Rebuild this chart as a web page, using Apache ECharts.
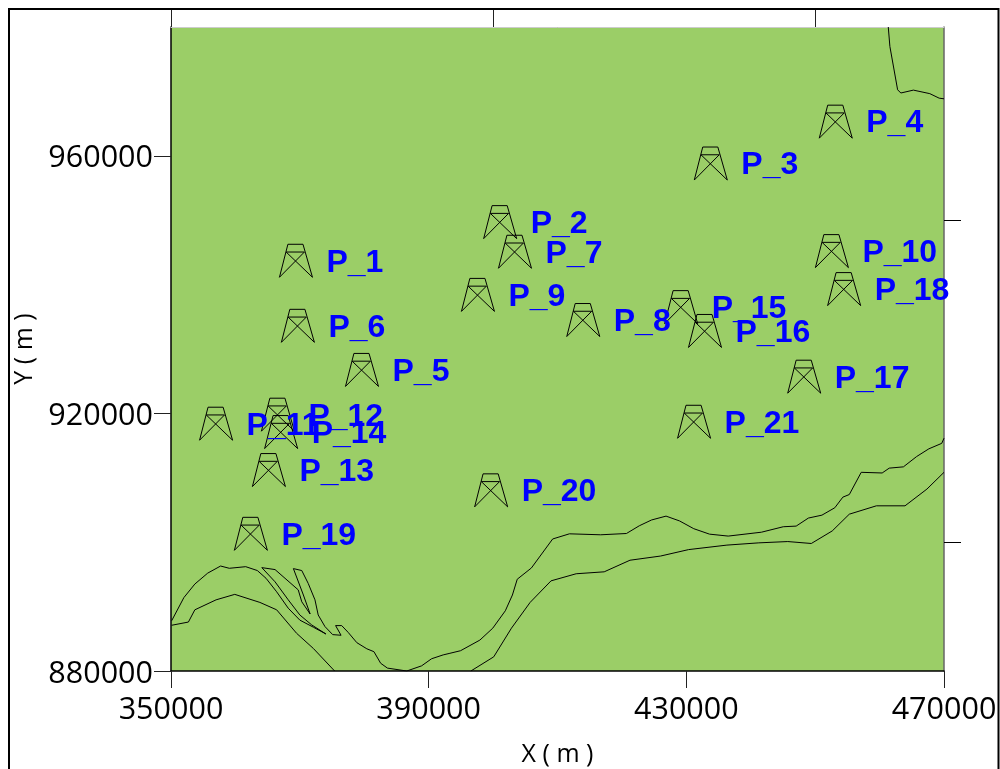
<!DOCTYPE html>
<html>
<head>
<meta charset="utf-8">
<style>html,body{margin:0;padding:0;background:#fff}#c{width:1000px;height:769px}</style>
<script src="https://cdn.jsdelivr.net/npm/echarts@6/dist/echarts.min.js"></script>
</head>
<body>
<div id="c"></div>
<script>
const siteNames = ['P_1','P_2','P_3','P_4','P_5','P_6','P_7','P_8','P_9','P_10','P_11','P_12','P_13','P_14','P_15','P_16','P_17','P_18','P_19','P_20','P_21'];
const siteX = [369400,401100,433800,453200,379650,369700,403400,414000,397650,452600,357000,366600,365200,367100,429200,432900,448300,454500,362400,399700,431200];
const siteY = [943700,949700,958800,965300,926750,933600,945100,934500,938400,945200,918400,919800,911200,917100,936500,932800,925700,939300,901300,908050,918700];
const xTickLabels = [350000,390000,430000,470000];
const yTickLabels = [880000,920000,960000];
const topTicks = [350000,400000,450000];
const rightTicks = [900000,950000];

const coastUpperLeft = [[350100,887800],[352000,891400],[353700,893500],[355700,895200],[357700,896300],[359050,895950],[361600,896200],[363400,895600],[364750,894400],[366400,892300],[368200,889750],[370000,887900],[372100,886800],[374050,885750]];
const coastLowerLeft = [[350100,887100],[352700,887600],[353700,889500],[357000,891050],[359900,891900],[363800,890650],[366400,889500],[369500,885850],[372100,883500],[375400,880000]];
const coastInner = [[364100,896050],[366150,893850],[368200,891050],[370000,888700],[371850,887150],[374050,885750]];
const coastMain = [[364100,896050],[366150,895750],[369750,892600],[370300,890750],[371600,888850],[370550,891800],[369000,895900],[370300,895600],[371300,893600],[372350,891050],[372850,888700],[373900,886900],[375100,885650],[376400,885550],[375550,887050],[376500,887050],[377500,886000],[378850,884400],[380400,883450],[381500,883000],[382550,881200],[383600,880450],[386600,880000],[388900,880800],[390450,881900],[392250,882500],[393300,882750],[394950,883150],[397950,884800],[399950,886650],[401900,889350],[403000,891800],[403750,894250],[405950,896000],[409250,900500],[411850,901300],[416700,901150],[420700,901350],[422700,902550],[424600,903450],[426850,904050],[428950,903300],[431150,902100],[433600,901250],[436500,900950],[441650,901550],[445050,902400],[447050,902500],[448950,903750],[451050,904200],[453050,905350],[454300,907000],[455300,907400],[457150,910850],[460400,910750],[461500,911500],[463700,911700],[465750,913300],[467650,914500],[469650,915350],[470000,916150]];
const coastSouth = [[396550,880000],[400100,882200],[402850,886650],[405750,890650],[409000,894000],[412900,895100],[417250,895400],[421250,897200],[426000,897850],[430350,898850],[436300,899550],[441250,899900],[445750,900100],[449400,899800],[452650,901750],[455300,904350],[459500,905650],[463950,905650],[467350,908250],[470000,910850]];
const coastNorth = [[461350,980000],[461600,976980],[462800,970250],[463300,969750],[465250,970200],[467800,969650],[469250,968950],[470000,968850]];
const coastLines = [coastUpperLeft, coastLowerLeft, coastInner, coastMain, coastSouth, coastNorth];

const towerPath = 'path://M24,0L67,0M24,0L0,98M67,0L94,98M19,23L71,23M19,23L94,98M71,23L0,98';
const tickFont = '"Open Sans"';

const chart = echarts.init(document.getElementById('c'), null, {renderer:'canvas'});
chart.setOption({
  animation:false,
  backgroundColor:'#fff',
  grid:{left:171,right:56,top:27,bottom:98,outerBoundsMode:'none',containLabel:false,show:true,backgroundColor:'#9bce67',borderWidth:0},
  graphic:[{type:'rect',z:100,shape:{x:9,y:9,width:989.5,height:800},style:{fill:'none',stroke:'#000',lineWidth:2}}],
  xAxis:[
    {type:'value',min:350000,max:470000,interval:40000,position:'bottom',
     name:'X ( m )',nameLocation:'middle',nameGap:71,nameTextStyle:{fontFamily:tickFont,fontSize:25,color:'#000'},
     splitLine:{show:false},
     axisLine:{show:true,lineStyle:{color:'#000',width:1.5}},
     axisTick:{show:true,length:17,lineStyle:{color:'#222',width:1}},
     axisLabel:{fontFamily:tickFont,fontSize:30.5,color:'#000',margin:24,showMinLabel:true,showMaxLabel:true,formatter:v=>String(v),customValues:xTickLabels}},
    {type:'value',min:350000,max:470000,position:'top',
     splitLine:{show:false},
     axisLine:{show:true,lineStyle:{color:'#ccc',width:1}},
     axisTick:{show:true,length:17,customValues:topTicks,lineStyle:{color:'#222',width:1}},
     axisLabel:{show:false}}
  ],
  yAxis:[
    {type:'value',min:880000,max:980000,position:'left',
     name:'Y ( m )',nameLocation:'middle',nameGap:132,nameTextStyle:{fontFamily:tickFont,fontSize:25,color:'#000'},
     splitLine:{show:false},
     axisLine:{show:true,lineStyle:{color:'#000',width:1.5}},
     axisTick:{show:true,length:17,customValues:yTickLabels,lineStyle:{color:'#222',width:1}},
     axisLabel:{fontFamily:tickFont,fontSize:30.5,color:'#000',margin:18,verticalAlign:'top',lineHeight:6,formatter:v=>String(v),customValues:yTickLabels}},
    {type:'value',min:880000,max:980000,position:'right',
     splitLine:{show:false},
     axisLine:{show:true,lineStyle:{color:'#666',width:1.5}},
     axisTick:{show:true,length:17,customValues:rightTicks,lineStyle:{color:'#000',width:1}},
     axisLabel:{show:false}}
  ],
  series:[
    ...coastLines.map(d=>({type:'line',data:d,showSymbol:false,symbol:'none',clip:true,silent:true,z:2,
      lineStyle:{color:'#000',width:1}})),
    {type:'scatter',z:3,clip:false,
     data:siteNames.map((n,i)=>({name:n,value:[siteX[i],siteY[i]]})),
     symbol:towerPath,symbolSize:[33,33],symbolKeepAspect:false,
     itemStyle:{color:'none',borderColor:'#000',borderWidth:1,opacity:1},
     label:{show:true,position:'right',distance:11.5,offset:[0,2],formatter:'{b}',color:'#0000ff',fontFamily:'"Liberation Sans"',fontWeight:'bold',fontSize:32}}
  ]
});
</script>
</body>
</html>
